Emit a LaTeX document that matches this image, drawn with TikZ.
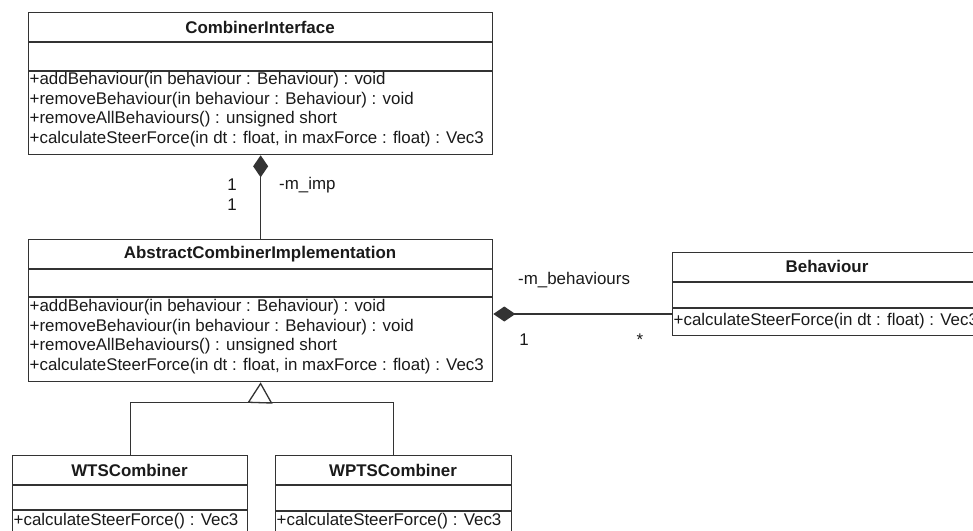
\documentclass[tikz,border=0pt]{standalone}
\usepackage{fontspec}
\setmainfont{Liberation Sans}
\usetikzlibrary{arrows.meta}
\definecolor{umlline}{HTML}{333333}
\definecolor{umltext}{HTML}{1A1A1A}
\tikzset{
  classbox/.style={draw=umlline, line width=1.3pt, fill=white, rectangle, inner sep=0pt, anchor=north west},
  sepline/.style={draw=umlline, line width=1.3pt},
  title/.style={font=\fontsize{16.9}{19}\selectfont\bfseries, text=umltext, inner sep=0pt},
  member/.style={font=\fontsize{16.9}{19}\selectfont, text=umltext, inner sep=0pt, anchor=west},
  lbl/.style={font=\fontsize{16.9}{19}\selectfont, text=umltext, inner sep=0pt},
  link/.style={draw=umlline, line width=1.3pt},
  comp/.style={link, -{Diamond[length=22pt,width=15pt]}},
  gen/.style={link, -{Triangle[open,length=21pt,width=25pt,fill=white]}},
}
\begin{document}
\begin{tikzpicture}[x=1pt,y=-1pt]
\useasboundingbox (0,0) rectangle (973,530);
\clip (0,0) rectangle (973,530);
\fill[white] (0,0) rectangle (973,530);

% CombinerInterface
\node[classbox, minimum width=464pt, minimum height=142pt] (ci) at (28,12) {};
\draw[sepline] ([yshift=-30pt]ci.north west) -- ([yshift=-30pt]ci.north east);
\draw[sepline] ([yshift=-59pt]ci.north west) -- ([yshift=-59pt]ci.north east);
\node[title] (ciT) at (260,27) {CombinerInterface};
\node[member] (ciM1) at (29.5,80.5) {+addBehaviour(in behaviour : Behaviour) : void};
\node[member] (ciM2) at (29.5,100) {+removeBehaviour(in behaviour : Behaviour) : void};
\node[member] (ciM3) at (29.5,119.5) {+removeAllBehaviours() : unsigned short};
\node[member] (ciM4) at (29.5,139) {+calculateSteerForce(in dt : float, in maxForce : float) : Vec3};

% AbstractCombinerImplementation
\node[classbox, minimum width=464pt, minimum height=142pt] (aci) at (28,239) {};
\draw[sepline] ([yshift=-30pt]aci.north west) -- ([yshift=-30pt]aci.north east);
\draw[sepline] ([yshift=-58pt]aci.north west) -- ([yshift=-58pt]aci.north east);
\node[title] (aciT) at (260,254) {AbstractCombinerImplementation};
\node[member] (aciM1) at (29.5,307.5) {+addBehaviour(in behaviour : Behaviour) : void};
\node[member] (aciM2) at (29.5,327) {+removeBehaviour(in behaviour : Behaviour) : void};
\node[member] (aciM3) at (29.5,346.5) {+removeAllBehaviours() : unsigned short};
\node[member] (aciM4) at (29.5,366) {+calculateSteerForce(in dt : float, in maxForce : float) : Vec3};

% Behaviour
\node[classbox, minimum width=310pt, minimum height=83pt] (beh) at (672,252) {};
\draw[sepline] ([yshift=-30pt]beh.north west) -- ([yshift=-30pt]beh.north east);
\draw[sepline] ([yshift=-56pt]beh.north west) -- ([yshift=-56pt]beh.north east);
\node[title] (behT) at (827,266) {Behaviour};
\node[member] (behM1) at (673.5,321.5) {+calculateSteerForce(in dt : float) : Vec3};

% WTSCombiner
\node[classbox, minimum width=235pt, minimum height=100pt] (wts) at (12,455) {};
\draw[sepline] ([yshift=-30pt]wts.north west) -- ([yshift=-30pt]wts.north east);
\draw[sepline] ([yshift=-55pt]wts.north west) -- ([yshift=-55pt]wts.north east);
\node[title] (wtsT) at (129.5,470) {WTSCombiner};
\node[member] (wtsM1) at (13.5,521) {+calculateSteerForce() : Vec3};

% WPTSCombiner
\node[classbox, minimum width=236pt, minimum height=100pt] (wpts) at (275,455) {};
\draw[sepline] ([yshift=-30pt]wpts.north west) -- ([yshift=-30pt]wpts.north east);
\draw[sepline] ([yshift=-56pt]wpts.north west) -- ([yshift=-56pt]wpts.north east);
\node[title] (wptsT) at (393,470) {WPTSCombiner};
\node[member] (wptsM1) at (276.5,521) {+calculateSteerForce() : Vec3};

% composition: CombinerInterface owns the implementation
\draw[comp] (aci.north) -- (ci.south);
\node[lbl] (impA) at (232,185) {1};
\node[lbl] (impB) at (232,205) {1};
\node[lbl, anchor=west] (impR) at (279,185) {-m\_imp};

% composition: implementation owns the behaviours
\coordinate (behPort) at ([yshift=-62pt]beh.north west);
\draw[comp] (behPort) -- (behPort -| aci.east);
\node[lbl, anchor=west] (behR) at (518,280) {-m\_behaviours};
\node[lbl, anchor=base] (behA) at (524,345) {1};
\node[lbl, anchor=base] (behB) at (640,345) {*};

% generalisation of the two combiners
\coordinate (genJoint) at (260,402.5);
\draw[gen] (genJoint) -- (aci.south);
\draw[link] (wts.north) |- (genJoint) -| (wpts.north);
\end{tikzpicture}
\end{document}
